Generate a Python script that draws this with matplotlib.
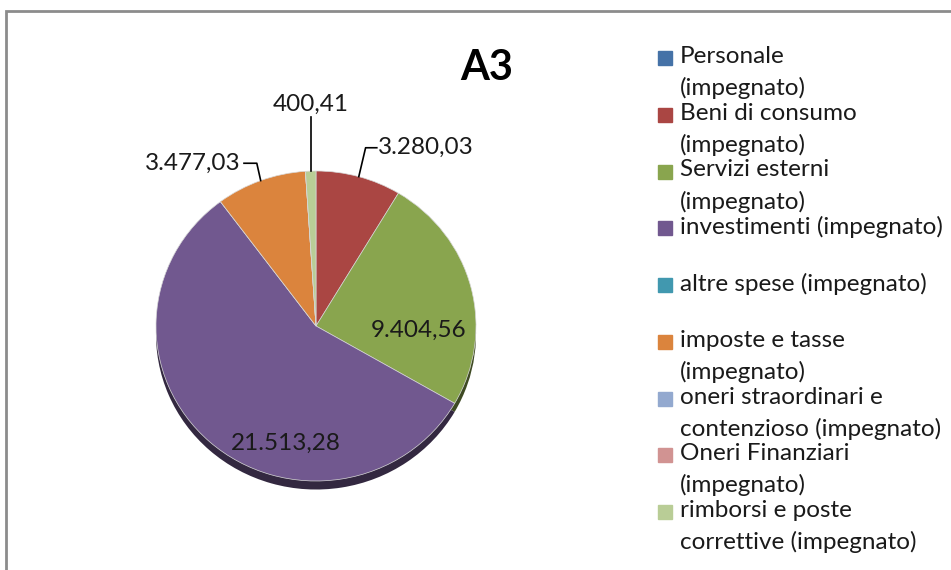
import numpy as np
import matplotlib.pyplot as plt
from matplotlib.patches import Rectangle
from matplotlib.colors import to_rgb

plt.rcParams['font.family'] = ['Lato', 'DejaVu Sans']

# dati
voci = ['Personale\n(impegnato)', 'Beni di consumo\n(impegnato)', 'Servizi esterni\n(impegnato)',
        'investimenti (impegnato)', 'altre spese (impegnato)', 'imposte e tasse\n(impegnato)',
        'oneri straordinari e\ncontenzioso (impegnato)', 'Oneri Finanziari\n(impegnato)',
        'rimborsi e poste\ncorrettive (impegnato)']
valori = [0, 3280.03, 9404.56, 21513.28, 0, 3477.03, 0, 0, 400.41]
etichette = ['', '3.280,03', '9.404,56', '21.513,28', '', '3.477,03', '', '', '400,41']
colori = ['#4572A7', '#AA4643', '#89A54E', '#71588F', '#4198AF',
          '#DB843D', '#93A9CF', '#D19392', '#B9CD96']

W, H = 951, 570
fig = plt.figure(figsize=(W / 100, H / 100), dpi=100)

# cornice grigia
fig.patches.append(Rectangle((6 / W, -0.1), 1.2, 1 - 11 / H + 0.1, transform=fig.transFigure,
                             fill=False, edgecolor='#8c8c8c', lw=2))

# asse della torta (centro ~ (316, 326) px)
cx, cy, rx, ry = 316, 326, 160, 155
ax = fig.add_axes([(cx - rx) / W, (H - cy - ry) / H, 2 * rx / W, 2 * ry / H])

# ombra sotto la torta
scuri = [tuple(c * 0.45 for c in to_rgb(col)) for col in colori]
ax.pie(valori, colors=scuri, startangle=90, counterclock=False, radius=1,
       center=(0, -0.055), frame=True, wedgeprops=dict(linewidth=0))
wedges, _ = ax.pie(valori, colors=colori, startangle=90, counterclock=False, radius=1,
                   frame=True, wedgeprops=dict(linewidth=0.5, edgecolor='#d8d8d8'))
ax.set_xlim(-1, 1)
ax.set_ylim(-1.0, 1.0)
ax.set_aspect('auto')
ax.axis('off')

def bordo(w, r=1.0):
    a = np.deg2rad((w.theta1 + w.theta2) / 2)
    return r * np.cos(a), r * np.sin(a)

fs = 17.5
# etichette esterne con linee guida
i = 1
x0, y0 = bordo(wedges[i])
ax.plot([x0, 0.31, 0.38], [y0, 1.15, 1.15], color='black', lw=1.2, clip_on=False)
ax.text(0.39, 1.15, etichette[i], ha='left', va='center', fontsize=fs, color='#1a1a1a')

i = 8
x0, y0 = bordo(wedges[i])
ax.plot([x0, x0], [y0, 1.35], color='black', lw=1.2, clip_on=False)
ax.text(x0, 1.36, etichette[i], ha='center', va='bottom', fontsize=fs, color='#1a1a1a')

i = 5
x0, y0 = bordo(wedges[i])
ax.plot([x0, -0.37, -0.45], [y0, 1.05, 1.05], color='black', lw=1.2, clip_on=False)
ax.text(-0.47, 1.05, etichette[i], ha='right', va='center', fontsize=fs, color='#1a1a1a')

# etichette interne
ax.text(0.64, -0.03, etichette[2], ha='center', va='center', fontsize=fs, color='#1a1a1a')
ax.text(-0.19, -0.755, etichette[3], ha='center', va='center', fontsize=fs, color='#1a1a1a')

# titolo
fig.text(487 / W, 1 - 68 / H, 'A3', ha='center', va='center', fontsize=30,
         fontweight='bold', color='black')

# legenda manuale
passo = 56.75
for k, (lab, col) in enumerate(zip(voci, colori)):
    y = 58 + k * passo
    fig.patches.append(Rectangle((658 / W, 1 - (y + 7) / H), 14 / W, 14 / H,
                                 transform=fig.transFigure, color=col))
    fig.text(680 / W, 1 - (y - 12) / H, lab, ha='left', va='top', fontsize=fs,
             color='#1a1a1a', linespacing=1.55)

fig.savefig('out.png', dpi=100)
